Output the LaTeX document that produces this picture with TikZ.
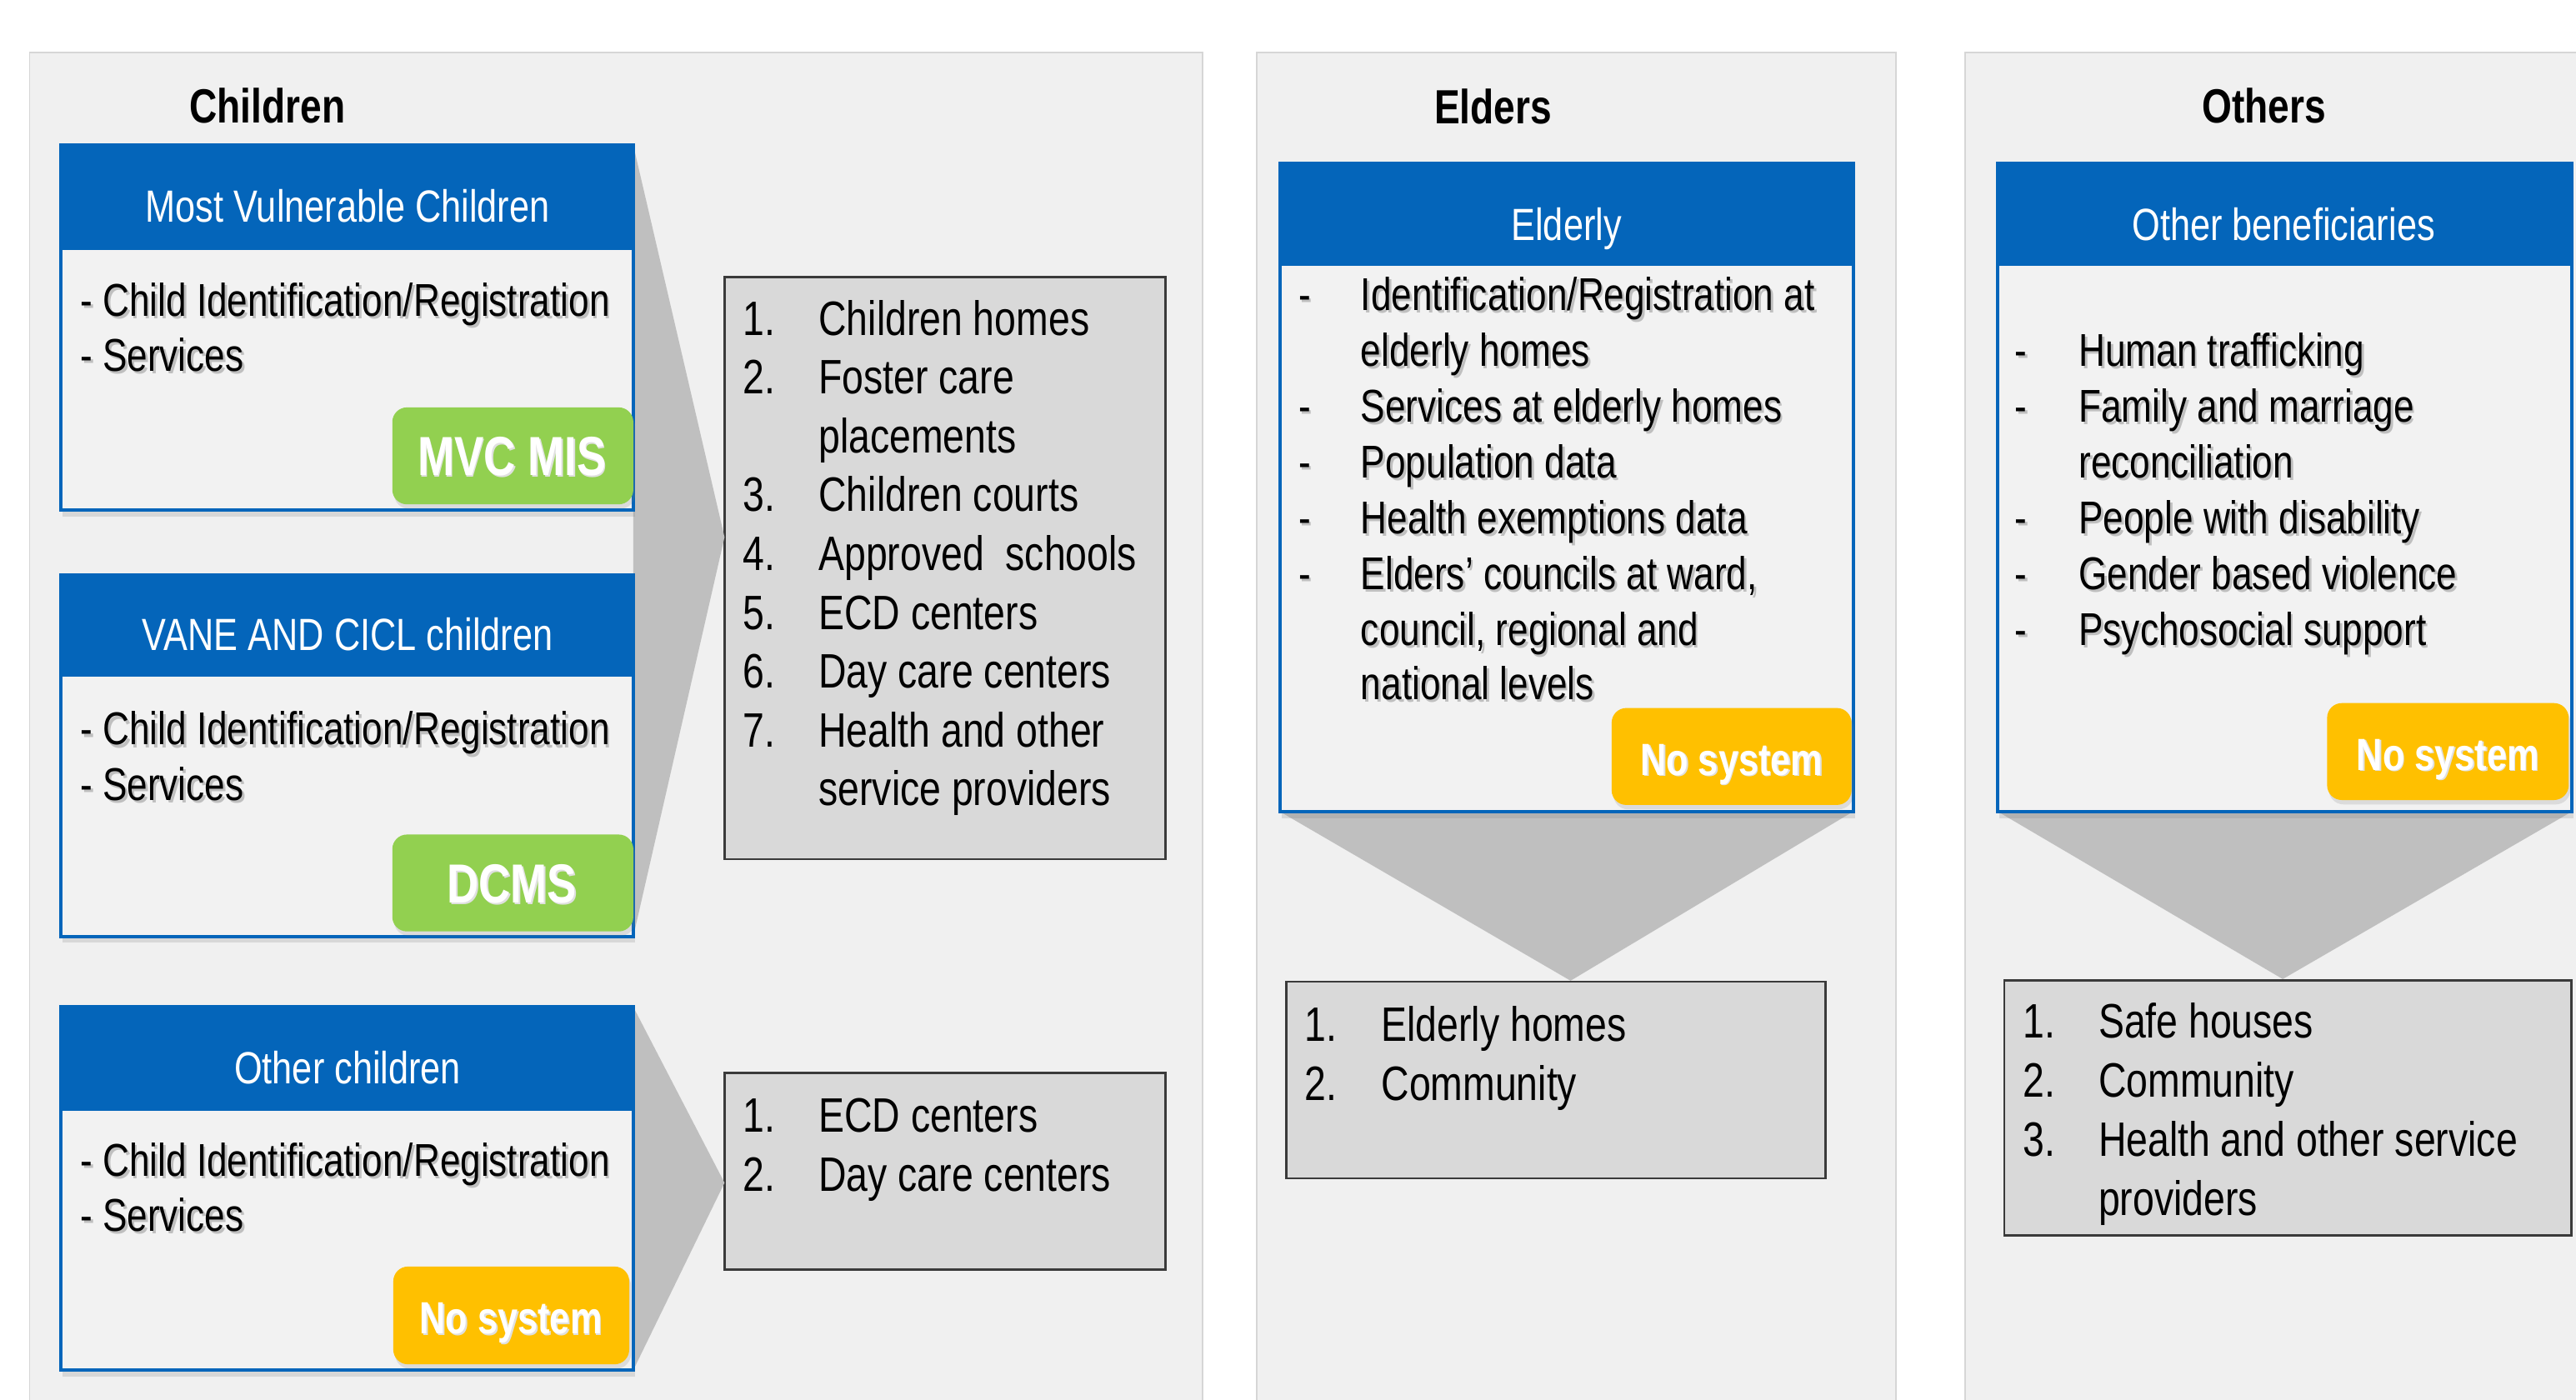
\documentclass[tikz,border=0pt]{standalone}
\usepackage{fontspec}
\setmainfont{Liberation Sans}[FakeStretch=0.8]
\usetikzlibrary{fit,shadows}
\definecolor{panelgray}{HTML}{F0F0F0}
\definecolor{panelline}{HTML}{D6D6D6}
\definecolor{bodygray}{HTML}{F2F2F2}
\definecolor{hdrblue}{HTML}{0465BA}
\definecolor{badgegreen}{HTML}{92D050}
\definecolor{badgeyellow}{HTML}{FFC000}
\definecolor{funnelgray}{HTML}{BFBFBF}
\definecolor{listfill}{HTML}{D9D9D9}
\definecolor{listline}{HTML}{3A3A3A}
\newcommand\shd[1]{\makebox[0pt][l]{\kern0.8pt\raisebox{-0.9pt}{\textcolor{black!25}{#1}}}#1}
\newcommand\wshd[1]{\makebox[0pt][l]{\kern0.5pt\raisebox{-0.5pt}{\textcolor{black!12}{#1}}}#1}
\tikzset{
  panel/.style={fill=panelgray, draw=panelline, line width=0.5pt, inner sep=0pt},
  catbox/.style={fill=bodygray, draw=hdrblue, line width=1.2pt, inner sep=0pt,
     drop shadow={shadow xshift=0.6pt, shadow yshift=-2.2pt, opacity=0.22}},
  hdrbar/.style={fill=hdrblue, draw=hdrblue, line width=1.2pt, inner sep=0pt},
  badge/.style={rounded corners=5pt, inner sep=0pt,
     drop shadow={shadow xshift=0.6pt, shadow yshift=-1.5pt, opacity=0.2}},
  listbox/.style={fill=listfill, draw=listline, line width=0.8pt, inner sep=0pt},
  funnel/.style={fill=funnelgray},
  heading/.style={inner sep=0pt, text height=11.7pt, text depth=0pt,
     font=\fontsize{16.4}{19}\selectfont\bfseries},
  ttl/.style={text=white, inner sep=0pt, text height=11pt, text depth=0pt,
     font=\fontsize{15.4}{18}\selectfont},
  bigbt/.style={text=white, inner sep=0pt, text height=13.5pt, text depth=0pt,
     font=\fontsize{18.8}{22}\selectfont\bfseries},
  nsbt/.style={text=white, inner sep=0pt, text height=11pt, text depth=0pt,
     font=\fontsize{15.4}{18}\selectfont\bfseries},
  bodyt/.style={anchor=base west, inner sep=0pt, font=\fontsize{15.7}{19}\selectfont},
  listt/.style={anchor=base west, inner sep=0pt, font=\fontsize{16.5}{20}\selectfont},
}
\begin{document}
\begin{tikzpicture}[x=0.019713cm, y=-0.019713cm]
\useasboundingbox (0,0) rectangle (1568,852);
\fill[white] (0,0) rectangle (1568,852);

% ---------- panels ----------
\node[panel, fit={(18,32)(732,853)}] (P1) {};
\node[panel, fit={(765,32)(1154,853)}] (P2) {};
\node[panel, fit={(1196,32)(1569,853)}] (P3) {};

\node[heading] (H1) at (162.8,64.3) {Children};
\node[heading] (H2) at (908.8,64.7) {Elders};
\node[heading] (H3) at (1378,64.2) {Others};

% ---------- list boxes (targets) ----------
\node[listbox, fit={(441,168.7)(709.5,523)}] (LB1) {};
\node[listbox, fit={(441,653)(709.5,773)}] (LB2) {};
\node[listbox, fit={(783,597.6)(1111,717.3)}] (LB3) {};
\node[listbox, fit={(1220,596.7)(1565,752)}] (LB4) {};

% ---------- category boxes geometry (for funnels) ----------
\coordinate (B1ne) at (385.5,88.5);
\coordinate (B2se) at (385.5,570);
\coordinate (B3ne) at (385.5,613);
\coordinate (B3se) at (385.5,834);
\coordinate (A1) at (441,327);
\coordinate (A2) at (441,720);
\coordinate (A3) at (956,597);
\coordinate (A4) at (1389.5,596);
\coordinate (Esw) at (779,494);
\coordinate (Ese) at (1128,494);
\coordinate (Osw) at (1216,494);
\coordinate (Ose) at (1565.5,494);

% ---------- funnels ----------
\fill[funnel] (B1ne) -- (A1) -- (B2se) -- cycle;
\fill[funnel] (B3ne) -- (A2) -- (B3se) -- cycle;
\fill[funnel] (Esw) -- (Ese) -- (A3) -- cycle;
\fill[funnel] (Osw) -- (Ose) -- (A4) -- cycle;

% ---------- Children: box 1 ----------
\node[catbox, fit={(37,88.5)(385.5,310.5)}] (B1) {};
\node[hdrbar, fit={(37,88.5)(385.5,151)}] (B1h) {};
\node[ttl] (B1t) at (211.6,125.5) {Most Vulnerable Children};
\node[bodyt] (B1l1) at (48.5,192.5) {\shd{- Child Identification/Registration}};
\node[bodyt] (B1l2) at (48.5,226) {\shd{- Services}};
\node[badge, fill=badgegreen, fit={(238.8,248)(385.5,307)}] (B1b) {};
\node[bigbt] (B1bt) at (311.6,277.6) {\wshd{MVC MIS}};

% ---------- Children: box 2 ----------
\node[catbox, fit={(37,350)(385.5,570)}] (B2) {};
\node[hdrbar, fit={(37,350)(385.5,411)}] (B2h) {};
\node[ttl] (B2t) at (211.6,386) {VANE AND CICL children};
\node[bodyt] (B2l1) at (48.5,453.5) {\shd{- Child Identification/Registration}};
\node[bodyt] (B2l2) at (48.5,487) {\shd{- Services}};
\node[badge, fill=badgegreen, fit={(238.8,508)(385.5,567)}] (B2b) {};
\node[bigbt] (B2bt) at (311.6,537.6) {\wshd{DCMS}};

% ---------- Children: box 3 ----------
\node[catbox, fit={(37,613)(385.5,834)}] (B3) {};
\node[hdrbar, fit={(37,613)(385.5,675)}] (B3h) {};
\node[ttl] (B3t) at (211.6,650) {Other children};
\node[bodyt] (B3l1) at (48.5,716) {\shd{- Child Identification/Registration}};
\node[bodyt] (B3l2) at (48.5,749.5) {\shd{- Services}};
\node[badge, fill=badgeyellow, fit={(239.4,771)(383,830.5)}] (B3b) {};
\node[nsbt] (B3bt) at (311,802) {\wshd{No system}};

% ---------- Elders box ----------
\node[catbox, fit={(779,99.5)(1128,494)}] (E) {};
\node[hdrbar, fit={(779,99.5)(1128,161)}] (Eh) {};
\node[ttl] (Et) at (953.5,136.5) {Elderly};
\node[bodyt] (Ed1) at (790,189) {\shd{-}};
\node[bodyt] (El1) at (828,189) {\shd{Identification/Registration at}};
\node[bodyt] (El2) at (828,223) {\shd{elderly homes}};
\node[bodyt] (Ed3) at (790,257) {\shd{-}};
\node[bodyt] (El3) at (828,257) {\shd{Services at elderly homes}};
\node[bodyt] (Ed4) at (790,291) {\shd{-}};
\node[bodyt] (El4) at (828,291) {\shd{Population data}};
\node[bodyt] (Ed5) at (790,325) {\shd{-}};
\node[bodyt] (El5) at (828,325) {\shd{Health exemptions data}};
\node[bodyt] (Ed6) at (790,359) {\shd{-}};
\node[bodyt] (El6) at (828,359) {\shd{Elders’ councils at ward,}};
\node[bodyt] (El7) at (828,393) {\shd{council, regional and}};
\node[bodyt] (El8) at (828,426) {\shd{national levels}};
\node[badge, fill=badgeyellow, fit={(981,431)(1127,490)}] (Eb) {};
\node[nsbt] (Ebt) at (1054,462) {\wshd{No system}};

% ---------- Others box ----------
\node[catbox, fit={(1216,99.5)(1565.5,494)}] (O) {};
\node[hdrbar, fit={(1216,99.5)(1565.5,161)}] (Oh) {};
\node[ttl] (Ot) at (1390,136.5) {Other beneficiaries};
\node[bodyt] (Od1) at (1226,223) {\shd{-}};
\node[bodyt] (Ol1) at (1265,223) {\shd{Human trafficking}};
\node[bodyt] (Od2) at (1226,257) {\shd{-}};
\node[bodyt] (Ol2) at (1265,257) {\shd{Family and marriage}};
\node[bodyt] (Ol3) at (1265,291) {\shd{reconciliation}};
\node[bodyt] (Od4) at (1226,325) {\shd{-}};
\node[bodyt] (Ol4) at (1265,325) {\shd{People with disability}};
\node[bodyt] (Od5) at (1226,359) {\shd{-}};
\node[bodyt] (Ol5) at (1265,359) {\shd{Gender based violence}};
\node[bodyt] (Od6) at (1226,393) {\shd{-}};
\node[bodyt] (Ol6) at (1265,393) {\shd{Psychosocial support}};
\node[badge, fill=badgeyellow, fit={(1416.5,428)(1563.5,487)}] (Ob) {};
\node[nsbt] (Obt) at (1490,459) {\wshd{No system}};

% ---------- list 1 ----------
\node[listt] (n11) at (452,204) {1.};
\node[listt] (t11) at (498,204) {Children homes};
\node[listt] (n12) at (452,239.8) {2.};
\node[listt] (t12) at (498,239.8) {Foster care};
\node[listt] (t12b) at (498,275.6) {placements};
\node[listt] (n13) at (452,311.4) {3.};
\node[listt] (t13) at (498,311.4) {Children courts};
\node[listt] (n14) at (452,347.2) {4.};
\node[listt] (t14) at (498,347.2) {Approved\ \ schools};
\node[listt] (n15) at (452,383) {5.};
\node[listt] (t15) at (498,383) {ECD centers};
\node[listt] (n16) at (452,418.8) {6.};
\node[listt] (t16) at (498,418.8) {Day care centers};
\node[listt] (n17) at (452,454.6) {7.};
\node[listt] (t17) at (498,454.6) {Health and other};
\node[listt] (t17b) at (498,490.4) {service providers};

% ---------- list 2 ----------
\node[listt] (n21) at (452,689) {1.};
\node[listt] (t21) at (498,689) {ECD centers};
\node[listt] (n22) at (452,725) {2.};
\node[listt] (t22) at (498,725) {Day care centers};

% ---------- list 3 ----------
\node[listt] (n31) at (794,634) {1.};
\node[listt] (t31) at (840.5,634) {Elderly homes};
\node[listt] (n32) at (794,670) {2.};
\node[listt] (t32) at (840.5,670) {Community};

% ---------- list 4 ----------
\node[listt] (n41) at (1231,632) {1.};
\node[listt] (t41) at (1277,632) {Safe houses};
\node[listt] (n42) at (1231,668) {2.};
\node[listt] (t42) at (1277,668) {Community};
\node[listt] (n43) at (1231,704) {3.};
\node[listt] (t43) at (1277,704) {Health and other service};
\node[listt] (t43b) at (1277,740) {providers};
\end{tikzpicture}
\end{document}
